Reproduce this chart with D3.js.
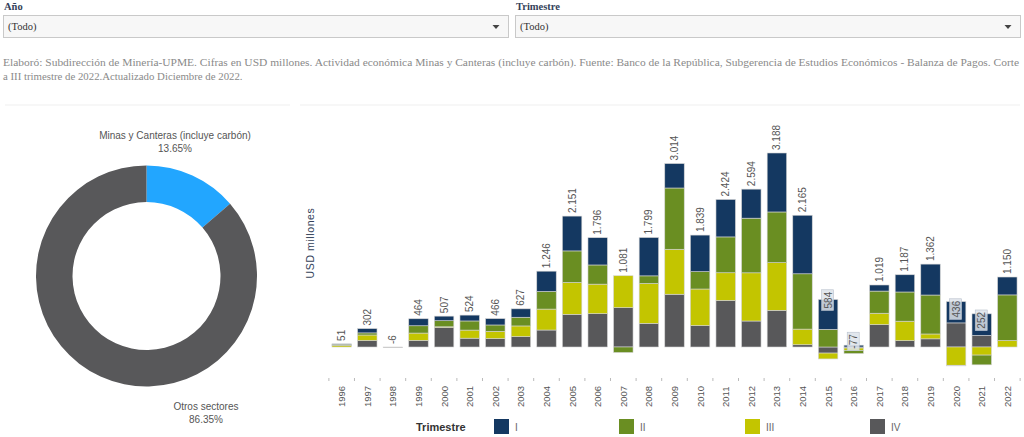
<!DOCTYPE html>
<html><head><meta charset="utf-8">
<script src="https://cdn.jsdelivr.net/npm/d3@7/dist/d3.min.js"></script>
<style>html,body{margin:0;padding:0;background:#fff;}svg{display:block;}</style>
</head><body><svg id="c" width="1024" height="437"></svg>
<script>
const years = ["1996","1997","1998","1999","2000","2001","2002","2003","2004","2005","2006","2007","2008","2009","2010","2011","2012","2013","2014","2015","2016","2017","2018","2019","2020","2021","2022"];
const qI   = [6,70,0,115,75,96,104,138,333,572,448,0,630,401,601,615,477,969,962,490,30,100,283,508,350,355,294];
const qII  = [20,35,0,120,100,150,104,143,290,518,315,-90,125,1007,285,589,898,833,909,290,-50,364,480,640,-10,-160,749];
const qIII = [25,90,0,120,10,133,120,175,344,524,485,525,655,739,601,454,792,783,257,-96,-40,187,320,80,-300,-133,107];
const qIV  = [0,107,-6,109,322,145,138,171,279,537,548,646,389,867,352,766,427,603,37,-100,-17,368,104,134,396,190,0];
const quarterNames = ["I","II","III","IV"];
const quarterColors = ["#143861","#6a8e22","#c3c500","#58585a"];
const donutLabels = ["Minas y Canteras (incluye carbón)","Otros sectores"];
const donutValues = [13.65, 86.35];
const donutColors = ["#22a6ff","#58585a"];

const svg = d3.select("#c");
const serif = "'Liberation Serif','Times New Roman',serif";
const sans = "'Liberation Sans',Arial,sans-serif";

// Filters
function filter(x, w, title){
  svg.append("text").attr("x",x+1).attr("y",10).attr("font-family",serif).attr("font-size",10.5).attr("font-weight","bold").attr("fill","#34425a").text(title);
  svg.append("rect").attr("x",x+0.5).attr("y",15.5).attr("width",w).attr("height",22).attr("fill","#f7f7f7").attr("stroke","#c9c9c9");
  svg.append("text").attr("x",x+5).attr("y",30).attr("font-family",serif).attr("font-size",10.5).attr("fill","#333").text("(Todo)");
  const ax = x + w - 12;
  svg.append("path").attr("d",`M${ax-3.5},25 L${ax+3.5},25 L${ax},29 Z`).attr("fill","#444");
}
filter(3,505,"Año");
filter(515,505,"Trimestre");

// Note
const note1 = "Elaboró: Subdirección de Minería-UPME. Cifras en USD millones. Actividad económica Minas y Canteras (incluye carbón). Fuente: Banco de la República, Subgerencia de Estudios Económicos - Balanza de Pagos. Corte";
const note2 = "a III trimestre de 2022.Actualizado Diciembre de 2022.";
svg.append("text").attr("x",3).attr("y",66).attr("font-family",serif).attr("font-size",10.8).attr("fill","#8a8a8a").attr("textLength",1016).attr("lengthAdjust","spacingAndGlyphs").text(note1);
svg.append("text").attr("x",3).attr("y",80).attr("font-family",serif).attr("font-size",10.8).attr("fill","#8a8a8a").text(note2);

svg.append("line").attr("x1",5).attr("x2",290).attr("y1",105).attr("y2",105).attr("stroke","#efefef");
svg.append("line").attr("x1",300).attr("x2",1020).attr("y1",105).attr("y2",105).attr("stroke","#efefef");

// Donut
const cx = 146.5, cy = 276;
const pie = d3.pie().sort(null).value(d=>d)(donutValues);
const arc = d3.arc().innerRadius(74).outerRadius(110.5);
const dg = svg.append("g").attr("transform",`translate(${cx},${cy})`);
dg.selectAll("path").data(pie).join("path").attr("d",arc).attr("fill",(d,i)=>donutColors[i]);
const fmtPct = v => v.toFixed(2) + "%";
svg.append("text").attr("x",175).attr("y",139).attr("text-anchor","middle").attr("font-family",sans).attr("font-size",10).attr("fill","#555").text(donutLabels[0]);
svg.append("text").attr("x",175).attr("y",152).attr("text-anchor","middle").attr("font-family",sans).attr("font-size",10).attr("fill","#555").text(fmtPct(donutValues[0]));
svg.append("text").attr("x",206).attr("y",410).attr("text-anchor","middle").attr("font-family",sans).attr("font-size",10).attr("fill","#555").text(donutLabels[1]);
svg.append("text").attr("x",206).attr("y",423).attr("text-anchor","middle").attr("font-family",sans).attr("font-size",10).attr("fill","#555").text(fmtPct(donutValues[1]));

// Bars
const rows = years.map((y,i)=>({year:y, I:qI[i], II:qII[i], III:qIII[i], IV:qIV[i]}));
const keys = ["IV","III","II","I"];
const colorOf = k => quarterColors[quarterNames.indexOf(k)];
const stack = d3.stack().keys(keys).offset(d3.stackOffsetDiverging)(rows);

const x = d3.scaleBand().domain(years).range([328.7,1020.3]).paddingInner(0.24).paddingOuter(0.127);
const pxPer = 194/3188;
const y = d3.scaleLinear().domain([-600,3400]).range([347+600*pxPer, 347-3400*pxPer]);

const bg = svg.append("g");
stack.forEach(layer=>{
  bg.selectAll(null).data(layer).join("rect")
    .attr("x",d=>x(d.data.year))
    .attr("width",x.bandwidth())
    .attr("y",d=>y(Math.max(d[0],d[1])))
    .attr("height",d=>Math.abs(y(d[0])-y(d[1])))
    .attr("fill",colorOf(layer.key))
    .attr("stroke","#d4d4d4").attr("stroke-width",0.6);
});

const fmtNum = v => {
  const s = Math.abs(v).toString().replace(/\B(?=(\d{3})+(?!\d))/g,".");
  return (v<0?"-":"") + s;
};
rows.forEach(r=>{
  const total = r.I+r.II+r.III+r.IV;
  const posSum = [r.I,r.II,r.III,r.IV].filter(v=>v>0).reduce((a,b)=>a+b,0);
  const cxp = x(r.year)+x.bandwidth()/2;
  const inside = posSum - total > 100;
  const ty = (inside ? y(total) : y(Math.max(total,posSum))) - 3;
  const g = svg.append("g").attr("transform",`translate(${cxp+3.5},${ty}) rotate(-90)`);
  const t = g.append("text").attr("x",0).attr("y",0).attr("font-family",sans).attr("font-size",10).attr("fill","#555").text(fmtNum(total));
  if(inside){
    const w = t.node().getComputedTextLength();
    g.insert("rect","text").attr("x",-2).attr("y",-10).attr("width",w+4).attr("height",12).attr("fill","#dde3ea").attr("fill-opacity",0.85).attr("stroke","#b8c0cc").attr("stroke-width",0.6);
  }
});

// x axis
const ag = svg.append("g");
years.forEach((yr,i)=>{
  const bx = x(yr) - (x.step()-x.bandwidth())/2;
  ag.append("line").attr("x1",bx).attr("x2",bx).attr("y1",378).attr("y2",381).attr("stroke","#bbb");
  const c = x(yr)+x.bandwidth()/2;
  ag.append("text").attr("transform",`translate(${c+3.5},407) rotate(-90)`).attr("font-family",sans).attr("font-size",9.5).attr("fill","#555").text(yr);
});
const lastX = x(years[years.length-1]) + x.bandwidth() + (x.step()-x.bandwidth())/2;
ag.append("line").attr("x1",lastX).attr("x2",lastX).attr("y1",378).attr("y2",381).attr("stroke","#bbb");

// y title
svg.append("text").attr("transform","translate(314,243) rotate(-90)").attr("text-anchor","middle").attr("font-family",sans).attr("font-size",10.5).attr("letter-spacing",0.6).attr("fill","#34425a").text("USD millones");

// legend
svg.append("text").attr("x",416).attr("y",431).attr("font-family",sans).attr("font-size",11).attr("font-weight","bold").attr("fill","#333").text("Trimestre");
const legX = [494,619,745,870];
quarterNames.forEach((q,i)=>{
  svg.append("rect").attr("x",legX[i]).attr("y",419).attr("width",15).attr("height",15).attr("fill",quarterColors[i]);
  svg.append("text").attr("x",legX[i]+21).attr("y",431).attr("font-family",sans).attr("font-size",10).attr("fill","#666").text(q);
});
</script></body></html>
